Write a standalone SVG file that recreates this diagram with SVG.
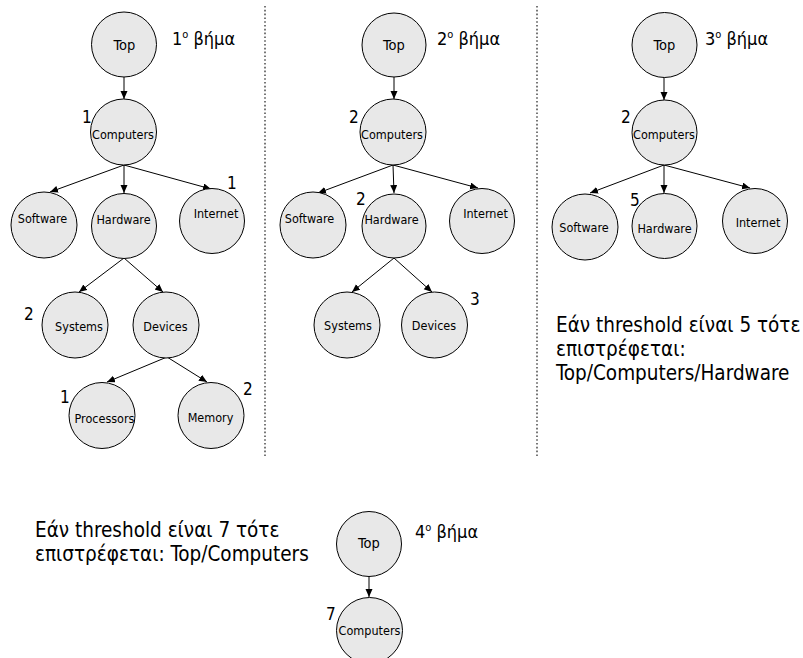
<svg xmlns="http://www.w3.org/2000/svg" width="803" height="658" viewBox="0 0 803 658">
  <style>
    text { font-family: "DejaVu Sans Condensed", "DejaVu Sans", sans-serif; font-stretch: condensed; fill: #000; }
    .node circle { fill: #e8e8e8; stroke: #000; stroke-width: 1; }
    .node text { font-size: 12.5px; text-anchor: middle; }
    .node text.top { font-size: 14.5px; }
    .num { font-size: 17px; }
    .step { font-size: 18px; }
    .step tspan.sup { font-size: 11px; }
    .note { font-size: 20.5px; }
    .edges line { stroke: #000; stroke-width: 1; marker-end: url(#arrow); }
    .divider { stroke: #555; stroke-width: 1.6; stroke-dasharray: 1.6 2.2; fill: none; }
  </style>
  <defs>
    <marker id="arrow" markerUnits="userSpaceOnUse" markerWidth="9" markerHeight="8" refX="8" refY="3.5" orient="auto">
      <path d="M0,0 L8,3.5 L0,7 z" fill="#000"/>
    </marker>
  </defs>

  <!-- dotted separators between the first three steps -->
  <line class="divider" x1="265" y1="6" x2="265" y2="458"/>
  <line class="divider" x1="537" y1="6" x2="537" y2="458"/>

  <!-- connectors -->
  <g class="edges">
    <!-- step 1 -->
    <line x1="124" y1="77" x2="124" y2="99"/>
    <line x1="124" y1="165" x2="50" y2="192"/>
    <line x1="124" y1="165" x2="124" y2="193"/>
    <line x1="124" y1="165" x2="211" y2="189"/>
    <line x1="124" y1="258" x2="79" y2="292"/>
    <line x1="124" y1="258" x2="163" y2="292"/>
    <line x1="167" y1="357" x2="107" y2="382"/>
    <line x1="167" y1="357" x2="207" y2="382"/>
    <!-- step 2 -->
    <line x1="394" y1="77" x2="394" y2="99"/>
    <line x1="393" y1="165" x2="318" y2="193"/>
    <line x1="393" y1="165" x2="394" y2="193"/>
    <line x1="393" y1="165" x2="478" y2="188"/>
    <line x1="394" y1="258" x2="352" y2="292"/>
    <line x1="394" y1="258" x2="432" y2="292"/>
    <!-- step 3 -->
    <line x1="664" y1="77" x2="664" y2="100"/>
    <line x1="664" y1="165" x2="590" y2="193"/>
    <line x1="664" y1="165" x2="664" y2="193"/>
    <line x1="664" y1="165" x2="750" y2="188"/>
    <!-- step 4 -->
    <line x1="369" y1="576" x2="369" y2="597"/>
  </g>

  <!-- step 1 tree -->
  <g id="s1-top" class="node"><circle cx="124" cy="44.5" r="32.5"/><text class="top" x="124.5" y="50">Top</text></g>
  <g id="s1-computers" class="node"><circle cx="123.5" cy="132" r="33"/><text x="123" y="139">Computers</text></g>
  <g id="s1-software" class="node"><circle cx="44" cy="225" r="33"/><text x="42.5" y="223">Software</text></g>
  <g id="s1-hardware" class="node"><circle cx="124" cy="226" r="32.5"/><text x="123.5" y="224">Hardware</text></g>
  <g id="s1-internet" class="node"><circle cx="212" cy="221" r="32.5"/><text x="216" y="218">Internet</text></g>
  <g id="s1-systems" class="node"><circle cx="75" cy="325" r="33"/><text x="79" y="331">Systems</text></g>
  <g id="s1-devices" class="node"><circle cx="166" cy="325" r="33"/><text x="165.5" y="331">Devices</text></g>
  <g id="s1-processors" class="node"><circle cx="102" cy="415.5" r="33"/><text x="104.5" y="423">Processors</text></g>
  <g id="s1-memory" class="node"><circle cx="211" cy="415.5" r="33"/><text x="210.5" y="422">Memory</text></g>
  <text class="step" x="172" y="45">1<tspan class="sup" dy="-7">o</tspan><tspan dy="7"> βήμα</tspan></text>
  <text class="num" x="82" y="123">1</text>
  <text class="num" x="227" y="189">1</text>
  <text class="num" x="24" y="320">2</text>
  <text class="num" x="60" y="403">1</text>
  <text class="num" x="243" y="395">2</text>

  <!-- step 2 tree -->
  <g id="s2-top" class="node"><circle cx="394" cy="45" r="32"/><text class="top" x="394" y="50">Top</text></g>
  <g id="s2-computers" class="node"><circle cx="393" cy="132" r="33"/><text x="392" y="139">Computers</text></g>
  <g id="s2-software" class="node"><circle cx="313" cy="225" r="33"/><text x="309.5" y="223">Software</text></g>
  <g id="s2-hardware" class="node"><circle cx="394" cy="226" r="32"/><text x="391.5" y="224">Hardware</text></g>
  <g id="s2-internet" class="node"><circle cx="482" cy="221" r="32.5"/><text x="485.5" y="218">Internet</text></g>
  <g id="s2-systems" class="node"><circle cx="347" cy="325" r="33"/><text x="348" y="330">Systems</text></g>
  <g id="s2-devices" class="node"><circle cx="434.5" cy="325" r="33"/><text x="434" y="330">Devices</text></g>
  <text class="step" x="437" y="45">2<tspan class="sup" dy="-7">o</tspan><tspan dy="7"> βήμα</tspan></text>
  <text class="num" x="349" y="123">2</text>
  <text class="num" x="356" y="205">2</text>
  <text class="num" x="470" y="305">3</text>

  <!-- step 3 tree -->
  <g id="s3-top" class="node"><circle cx="664.5" cy="45" r="32.5"/><text class="top" x="664.5" y="50">Top</text></g>
  <g id="s3-computers" class="node"><circle cx="664.5" cy="132.5" r="32.5"/><text x="664" y="139">Computers</text></g>
  <g id="s3-software" class="node"><circle cx="585" cy="227" r="33"/><text x="584" y="232">Software</text></g>
  <g id="s3-hardware" class="node"><circle cx="664.5" cy="226" r="32.5"/><text x="664.5" y="233">Hardware</text></g>
  <g id="s3-internet" class="node"><circle cx="755" cy="221" r="32.5"/><text x="758" y="227">Internet</text></g>
  <text class="step" x="705" y="45">3<tspan class="sup" dy="-7">o</tspan><tspan dy="7"> βήμα</tspan></text>
  <text class="num" x="621" y="123">2</text>
  <text class="num" x="630" y="206">5</text>
  <text class="note" x="556" y="332">Εάν threshold είναι 5 τότε</text>
  <text class="note" x="556" y="356">επιστρέφεται:</text>
  <text class="note" x="556" y="380">Top/Computers/Hardware</text>

  <!-- step 4 tree -->
  <g id="s4-top" class="node"><circle cx="369" cy="544" r="32.5"/><text class="top" x="369" y="548">Top</text></g>
  <g id="s4-computers" class="node"><circle cx="369.5" cy="630.5" r="33"/><text x="369.5" y="635">Computers</text></g>
  <text class="step" x="415" y="538">4<tspan class="sup" dy="-7">o</tspan><tspan dy="7"> βήμα</tspan></text>
  <text class="num" x="326" y="620">7</text>
  <text class="note" x="35" y="537">Εάν threshold είναι 7 τότε</text>
  <text class="note" x="35" y="561">επιστρέφεται: Top/Computers</text>
</svg>
